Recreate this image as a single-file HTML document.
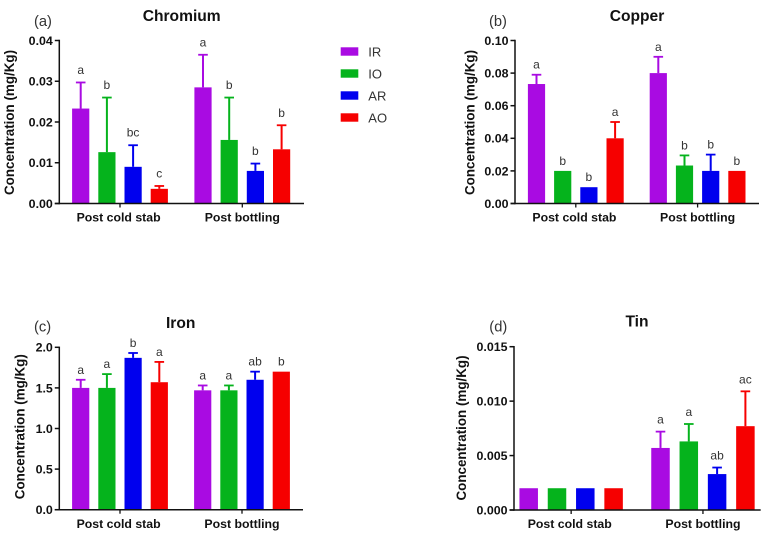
<!DOCTYPE html>
<html>
<head>
<meta charset="utf-8">
<title>Metal concentrations</title>
<style>
html,body{margin:0;padding:0;background:#fff;}
svg{display:block;font-family:"Liberation Sans",Arial,sans-serif;}
</style>
</head>
<body>
<svg id="fig" width="777" height="537" viewBox="0 0 777 537" xmlns="http://www.w3.org/2000/svg"></svg>
<script>
const categories = ['Post cold stab', 'Post bottling'];
const seriesNames = ['IR', 'IO', 'AR', 'AO'];

const chromiumTicks = ['0.00', '0.01', '0.02', '0.03', '0.04'];
const chromiumMeans = [[0.0233, 0.0285], [0.0126, 0.0156], [0.0090, 0.0080], [0.0036, 0.0133]];
const chromiumUpper = [[0.0297, 0.0365], [0.0260, 0.0260], [0.0143, 0.0098], [0.0043, 0.0192]];
const chromiumLetters = [['a', 'a'], ['b', 'b'], ['bc', 'b'], ['c', 'b']];

const copperTicks = ['0.00', '0.02', '0.04', '0.06', '0.08', '0.10'];
const copperMeans = [[0.0733, 0.0800], [0.0200, 0.0233], [0.0100, 0.0200], [0.0400, 0.0200]];
const copperUpper = [[0.0790, 0.0900], [0.0200, 0.0295], [0.0100, 0.0300], [0.0500, 0.0200]];
const copperLetters = [['a', 'a'], ['b', 'b'], ['b', 'b'], ['a', 'b']];

const ironTicks = ['0.0', '0.5', '1.0', '1.5', '2.0'];
const ironMeans = [[1.50, 1.47], [1.50, 1.47], [1.87, 1.60], [1.57, 1.70]];
const ironUpper = [[1.60, 1.53], [1.67, 1.53], [1.93, 1.70], [1.82, 1.70]];
const ironLetters = [['a', 'a'], ['a', 'a'], ['b', 'ab'], ['a', 'b']];

const tinTicks = ['0.000', '0.005', '0.010', '0.015'];
const tinMeans = [[0.0020, 0.0057], [0.0020, 0.0063], [0.0020, 0.0033], [0.0020, 0.0077]];
const tinUpper = [[0.0020, 0.0072], [0.0020, 0.0079], [0.0020, 0.0039], [0.0020, 0.0109]];
const tinLetters = [['', 'a'], ['', 'a'], ['', 'ab'], ['', 'ac']];

const colors = ['#a90be2', '#05b31c', '#0000ee', '#f60000'];
const NS = 'http://www.w3.org/2000/svg';
const root = document.getElementById('fig');

function add(parent, tag, attrs, txt) {
  const el = document.createElementNS(NS, tag);
  for (const k in attrs) el.setAttribute(k, attrs[k]);
  if (txt !== undefined) el.textContent = txt;
  parent.appendChild(el);
  return el;
}

function drawPanel(cfg) {
  const g = add(root, 'g', {});
  
  

  const ticks = cfg.ticks;
  const yMin = parseFloat(ticks[0]);
  const yMax = parseFloat(ticks[ticks.length - 1]);
  const yScale = v => cfg.y0 - (v - yMin) / (yMax - yMin) * (cfg.y0 - cfg.yTop);
  const xScale = (groupIdx, seriesIdx) => cfg.groupStart[groupIdx] + seriesIdx * cfg.step;

  const tag = add(g, 'text', {x: cfg.tagX, y: cfg.tagY, 'font-size': 14.7, fill: '#333'}, cfg.tag);
  
  

  const title = add(g, 'text', {x: cfg.titleX, y: cfg.titleY, 'font-size': 15.6, 'font-weight': 'bold', 'text-anchor': 'middle', fill: '#111'}, cfg.title);
  
  

  const yTitle = add(g, 'text', {x: 0, y: 0, 'font-size': 13.4, 'font-weight': 'bold', 'text-anchor': 'middle', fill: '#111', transform: 'translate(' + cfg.yTitleX + ' ' + cfg.yTitleY + ') rotate(-90)'}, 'Concentration (mg/Kg)');
  
  

  seriesNames.forEach((name, s) => {
    categories.forEach((cat, c) => {
      const cx = xScale(c, s);
      const top = yScale(cfg.means[s][c]);
      const up = yScale(cfg.upper[s][c]);
      const bar = add(g, 'rect', {x: cx - cfg.barW / 2, y: top, width: cfg.barW, height: cfg.y0 - top, fill: colors[s]});
      
      

      if (cfg.upper[s][c] > cfg.means[s][c]) {
        const stem = add(g, 'line', {x1: cx, x2: cx, y1: top, y2: up, stroke: colors[s], 'stroke-width': 2});
        
        
        const cap = add(g, 'line', {x1: cx - 4.8, x2: cx + 4.8, y1: up, y2: up, stroke: colors[s], 'stroke-width': 1.8});
        
        
      }

      const letter = cfg.letters[s][c];
      if (letter) {
        const lab = add(g, 'text', {x: cx, y: up - cfg.letterGap + 3, 'font-size': 12, 'text-anchor': 'middle', fill: '#333'}, letter);
        
        
      }
    });
  });

  const yAxis = add(g, 'line', {x1: cfg.axisX, x2: cfg.axisX, y1: cfg.yTop - 0.7, y2: cfg.y0 + 0.7, stroke: '#111', 'stroke-width': 1.5});
  
  

  const xAxis = add(g, 'line', {x1: cfg.axisX - 4.5, x2: cfg.axisEnd, y1: cfg.y0, y2: cfg.y0, stroke: '#111', 'stroke-width': 1.5});
  
  

  ticks.forEach(t => {
    const y = yScale(parseFloat(t));
    const mark = add(g, 'line', {x1: cfg.axisX - 4.5, x2: cfg.axisX, y1: y, y2: y, stroke: '#111', 'stroke-width': 1.5});
    
    
    const lab = add(g, 'text', {x: cfg.axisX - 6.5, y: y + 4.4, 'font-size': 12.4, 'font-weight': 'bold', 'text-anchor': 'end', fill: '#111'}, t);
    
    
  });

  categories.forEach((cat, c) => {
    const cx = (xScale(c, 0) + xScale(c, seriesNames.length - 1)) / 2;
    const mark = add(g, 'line', {x1: cx, x2: cx, y1: cfg.y0, y2: cfg.y0 + 4, stroke: '#111', 'stroke-width': 1.3});
    
    
    const labelX = c === 0 ? cx - 1.4 : cx;
    const lab = add(g, 'text', {x: labelX, y: cfg.y0 + 18.2, 'font-size': 12.3, 'font-weight': 'bold', 'text-anchor': 'middle', fill: '#111'}, cat);
    
    
  });
}

drawPanel({key: 'chromium', tag: '(a)', title: 'Chromium', ticks: chromiumTicks, means: chromiumMeans, upper: chromiumUpper, letters: chromiumLetters,
  axisX: 59.3, axisEnd: 304, y0: 203.5, yTop: 40.5, groupStart: [80.7, 203], step: 26.2, barW: 17.2, letterGap: 11.5,
  tagX: 34, tagY: 26, titleX: 181.7, titleY: 21, yTitleX: 14, yTitleY: 122.5});

drawPanel({key: 'copper', tag: '(b)', title: 'Copper', ticks: copperTicks, means: copperMeans, upper: copperUpper, letters: copperLetters,
  axisX: 515, axisEnd: 759, y0: 203.5, yTop: 40.5, groupStart: [536.5, 658.3], step: 26.2, barW: 17.2, letterGap: 9,
  tagX: 489, tagY: 26, titleX: 637, titleY: 21, yTitleX: 474.5, yTitleY: 122.5});

drawPanel({key: 'iron', tag: '(c)', title: 'Iron', ticks: ironTicks, means: ironMeans, upper: ironUpper, letters: ironLetters,
  axisX: 59.3, axisEnd: 303, y0: 509.7, yTop: 347.3, groupStart: [80.7, 202.7], step: 26.2, barW: 17.2, letterGap: 9,
  tagX: 34, tagY: 331.7, titleX: 180.7, titleY: 328, yTitleX: 24.5, yTitleY: 426.7});

drawPanel({key: 'tin', tag: '(d)', title: 'Tin', ticks: tinTicks, means: tinMeans, upper: tinUpper, letters: tinLetters,
  axisX: 514, axisEnd: 760.7, y0: 510, yTop: 346.7, groupStart: [528.7, 660.5], step: 28.3, barW: 18.5, letterGap: 11,
  tagX: 489.3, tagY: 331.7, titleX: 637, titleY: 326.7, yTitleX: 466, yTitleY: 428});

const legend = add(root, 'g', {});


seriesNames.forEach((name, i) => {
  const y = 47.3 + i * 22;
  const sw = add(legend, 'rect', {x: 340.7, y: y, width: 17.6, height: 8.4, fill: colors[i]});
  
  
  const lab = add(legend, 'text', {x: 368.3, y: y + 9, 'font-size': 13, fill: '#333'}, name);
  
  
});
</script>
</body>
</html>
